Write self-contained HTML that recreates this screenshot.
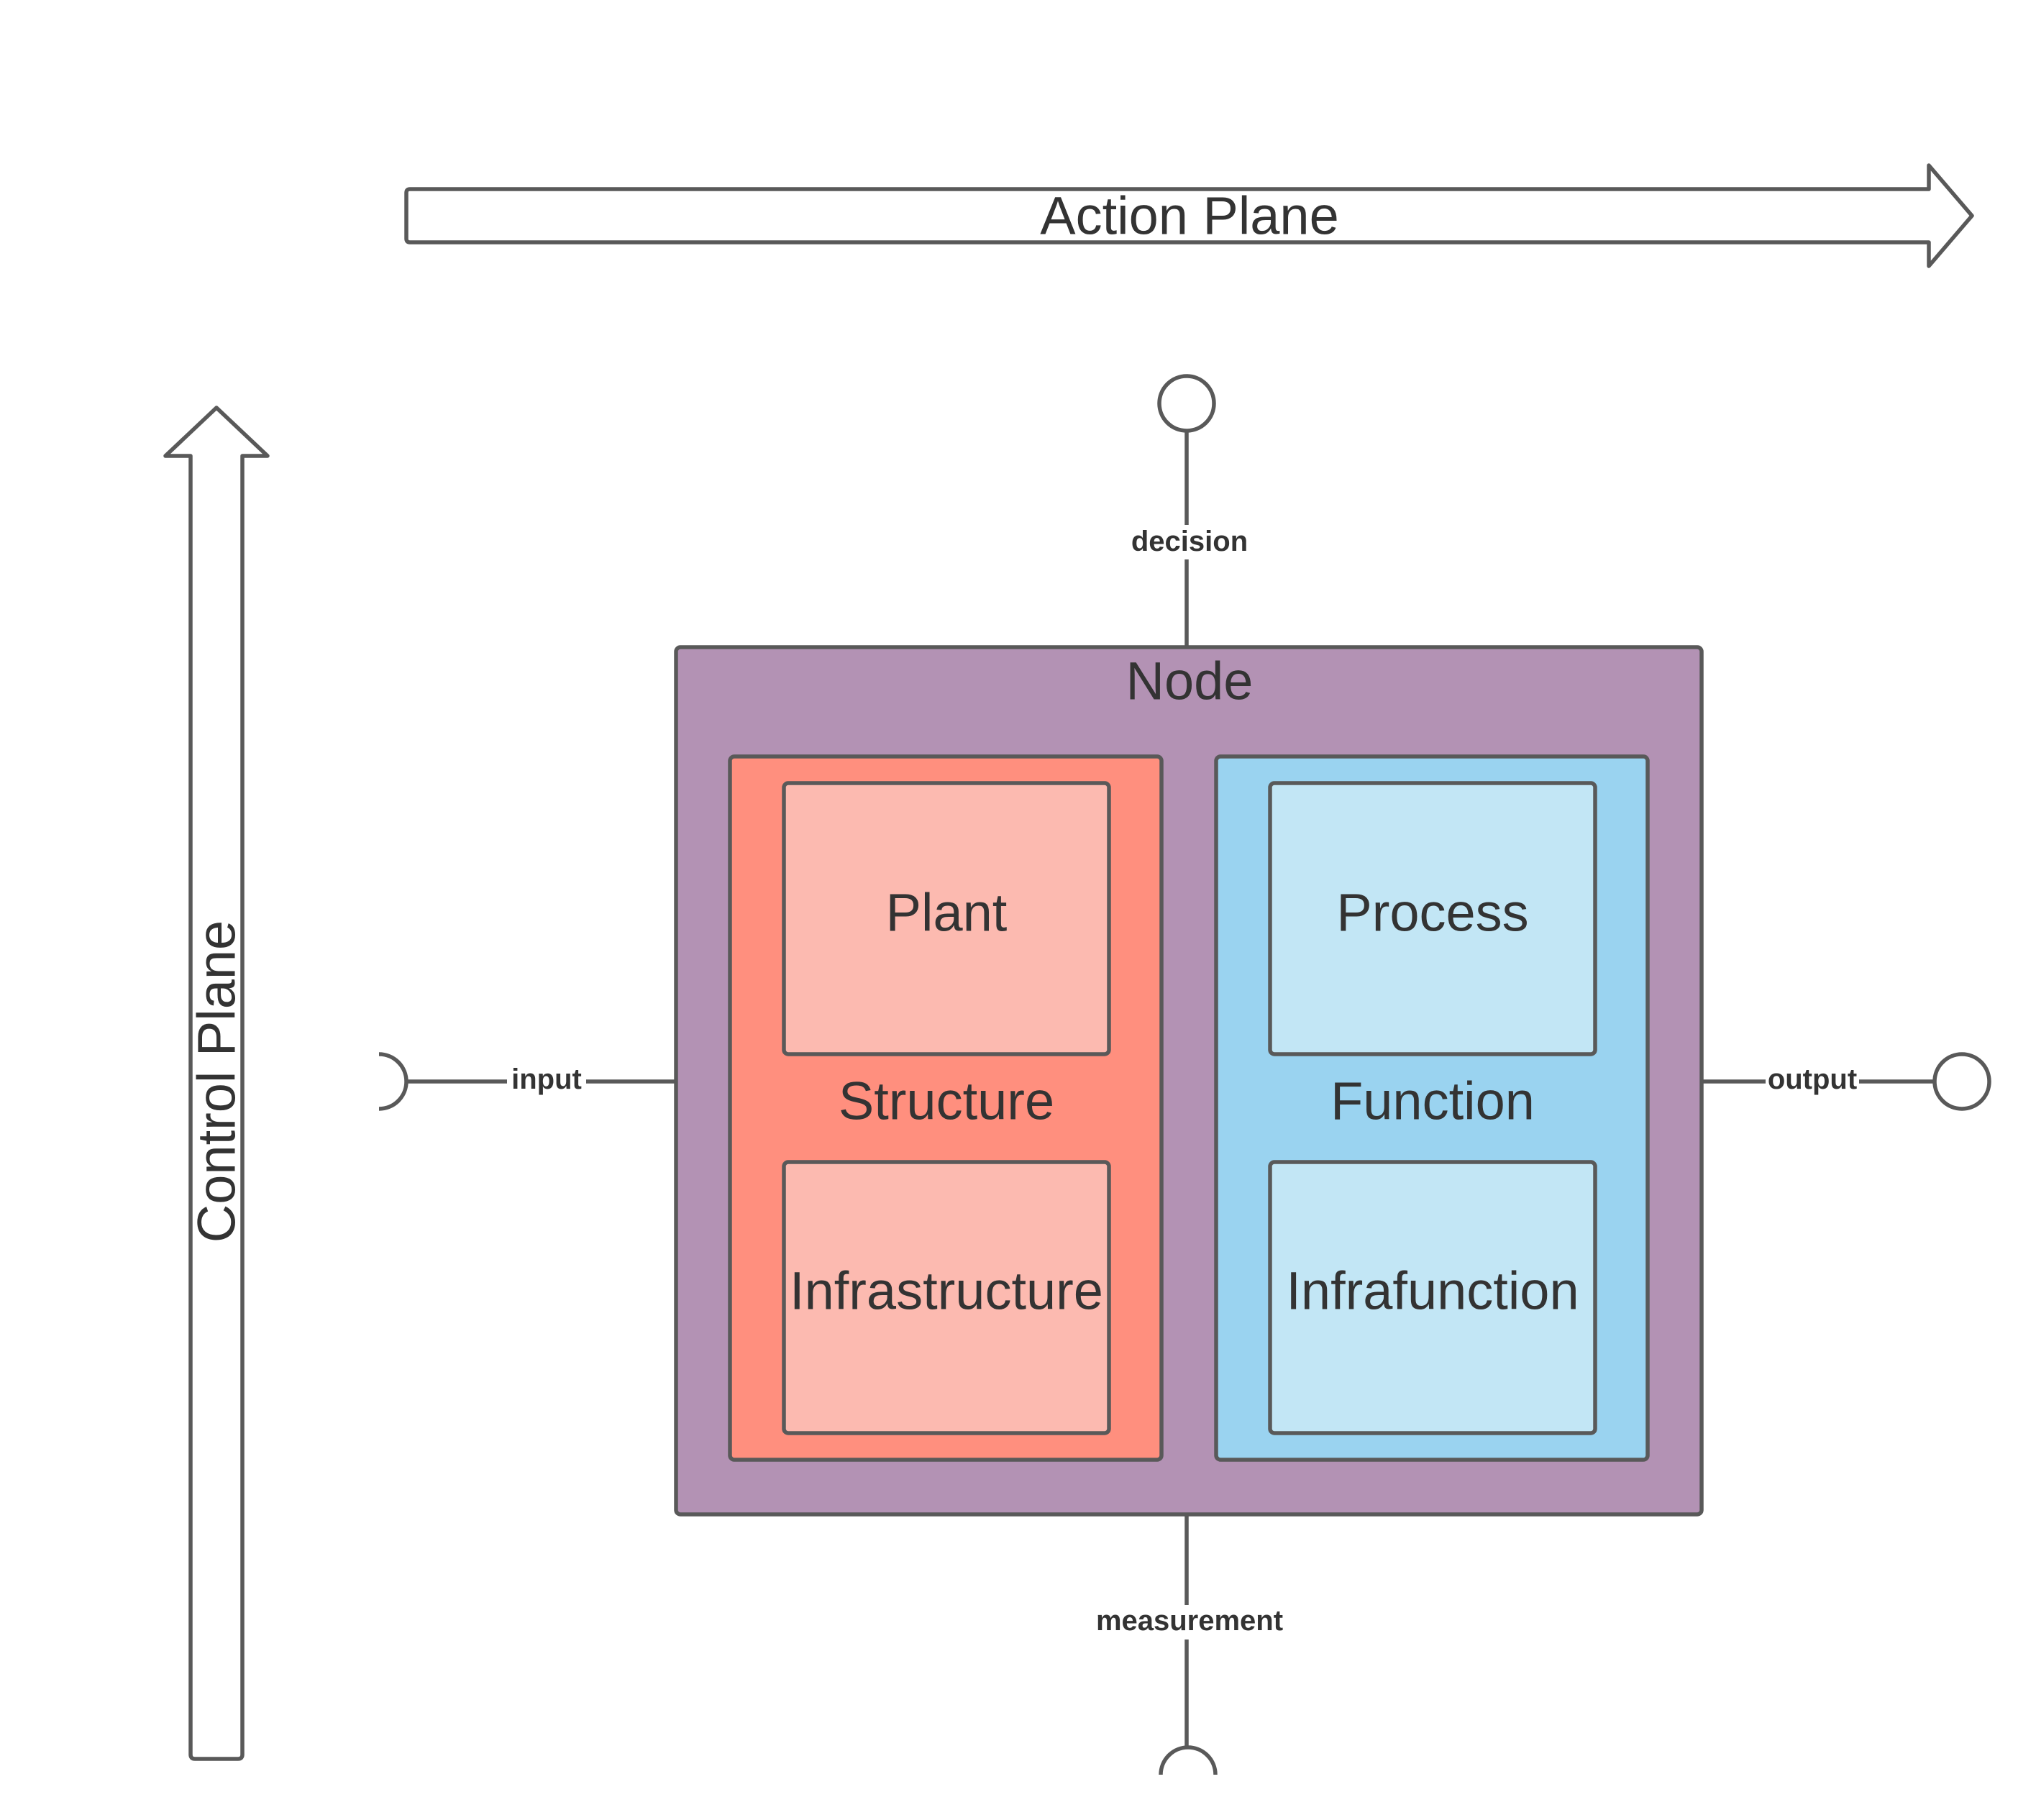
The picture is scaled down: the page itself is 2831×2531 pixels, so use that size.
<!DOCTYPE html>
<html><head><meta charset="utf-8"><style>html,body{margin:0;padding:0;background:#fff}svg{display:block}</style></head>
<body>
<svg width="2831" height="2531" viewBox="0 0 2831 2531" xmlns="http://www.w3.org/2000/svg" font-family="Liberation Sans, sans-serif">
<rect width="2831" height="2531" fill="#fff"/>
<g stroke="#595959" stroke-width="5.5" stroke-linejoin="round" fill="#fff">
<!-- Action plane arrow -->
<path d="M570,263 L2682,263 L2682,230 L2742,300 L2682,370 L2682,337 L570,337 Q565,337 565,332 L565,268 Q565,263 570,263 Z"/>
<!-- Control plane arrow -->
<path d="M265,2440 L265,634 L230,634 L301,567 L372,634 L337,634 L337,2440 Q337,2446 331,2446 L271,2446 Q265,2446 265,2440 Z"/>
<!-- connectors -->
<line x1="1650" y1="600" x2="1650" y2="900" fill="none"/>
<circle cx="1650" cy="561" r="38"/>
<line x1="1650" y1="2106" x2="1650" y2="2430" fill="none"/>
<path d="M1614,2468 A38,38 0 0 1 1690,2468" fill="none"/>
<line x1="565" y1="1504" x2="940" y2="1504" fill="none"/>
<path d="M527,1466 A38,38 0 0 1 527,1542" fill="none"/>
<line x1="2366" y1="1504" x2="2690" y2="1504" fill="none"/>
<circle cx="2728" cy="1504" r="38"/>
<!-- Node -->
<rect x="940" y="900" width="1426" height="1206" rx="6" fill="#b392b4"/>
<rect x="1015" y="1052" width="600" height="978" rx="6" fill="#ff8f7e"/>
<rect x="1090" y="1089" width="452" height="377" rx="6" fill="#fcbab0"/>
<rect x="1090" y="1616" width="452" height="377" rx="6" fill="#fcbab0"/>
<rect x="1691" y="1052" width="600" height="978" rx="6" fill="#9ad3f0"/>
<rect x="1766" y="1089" width="452" height="377" rx="6" fill="#c2e6f5"/>
<rect x="1766" y="1616" width="452" height="377" rx="6" fill="#c2e6f5"/>
</g>
<!-- label backgrounds -->
<g fill="#fff">
<rect x="1560" y="730" width="180" height="48"/>
<rect x="1510" y="2232" width="280" height="48"/>
<rect x="705" y="1482" width="110" height="44"/>
<rect x="2455" y="1482" width="130" height="44"/>
</g>
<g fill="#333" text-anchor="middle" dominant-baseline="central">
<text x="1654" y="300" font-size="74">Action Plane</text>
<text transform="translate(301,1504) rotate(-90)" font-size="74">Control Plane</text>
<text x="1654" y="947" font-size="74">Node</text>
<text x="1316" y="1269" font-size="74">Plant</text>
<text x="1316" y="1531" font-size="74">Structure</text>
<text x="1316" y="1795" font-size="74">Infrastructure</text>
<text x="1992" y="1269" font-size="74">Process</text>
<text x="1992" y="1531" font-size="74">Function</text>
<text x="1992" y="1795" font-size="74">Infrafunction</text>
<g font-weight="bold" font-size="40">
<text x="1654" y="753">decision</text>
<text x="1654" y="2254">measurement</text>
<text x="760" y="1501">input</text>
<text x="2520" y="1501">output</text>
</g>
</g>
</svg>
</body></html>
